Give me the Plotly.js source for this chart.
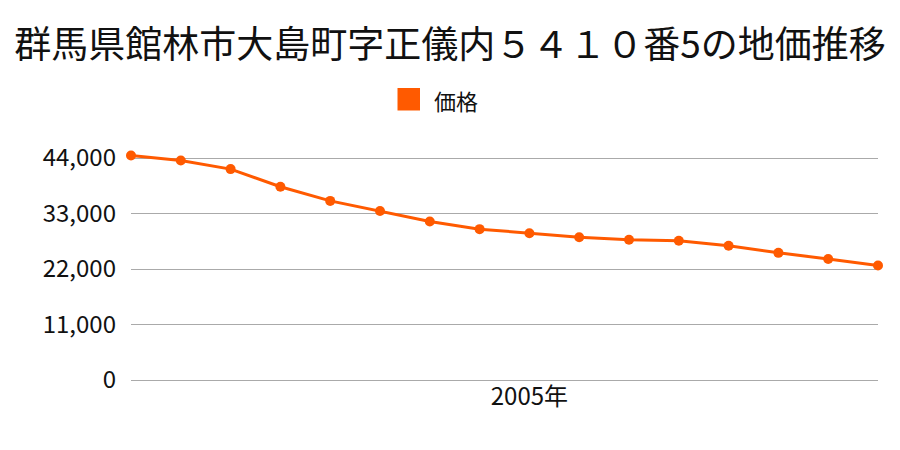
<!DOCTYPE html>
<html><head><meta charset="utf-8">
<script src="https://cdn.plot.ly/plotly-3.0.1.min.js"></script>
<style>body{margin:0;background:#fff}#c{width:900px;height:450px}</style>
</head><body><div id="c"></div>
<script>
const years = [1997,1998,1999,2000,2001,2002,2003,2004,2005,2006,2007,2008,2009,2010,2011,2012];
const prices = [44500,43500,41800,38300,35500,33500,31400,29900,29100,28300,27800,27600,26600,25200,24000,22700];
const yTicks = [0,11000,22000,33000,44000];
const yTickLabels = ['0','11,000','22,000','33,000','44,000'];
const xTicks = [2005];
const xTickLabels = ['2005年'];
const seriesName = '価格';
const titleText = '群馬県館林市大島町字正儀内５４１０番5の地価推移';
const font = '"Noto Sans CJK JP", "Noto Sans", sans-serif';
const seriesColor = '#ff5a00';

// plot area geometry (pixels) used only to place the hand-made legend
const L = 131, R = 22, T = 140, B = 70, W = 900, H = 450;
const pw = W - L - R, ph = H - T - B;
const px = v => (v - L) / pw;
const py = v => (H - B - v) / ph;

Plotly.newPlot('c', [{
  x: years, y: prices, name: seriesName, type: 'scatter', mode: 'lines+markers',
  line: {color: seriesColor, width: 3},
  marker: {color: seriesColor, size: 10},
  cliponaxis: false, showlegend: false
}], {
  width: W, height: H,
  margin: {l: L, r: R, t: T, b: B},
  paper_bgcolor: '#fff', plot_bgcolor: '#fff',
  font: {family: font, color: '#111'},
  title: {text: titleText, font: {size: 37, family: font, color: '#111'}, x: 0.5, xanchor: 'center', xref: 'container', yref: 'container', y: 0.9, yanchor: 'middle'},
  showlegend: false,
  shapes: [{type: 'rect', xref: 'paper', yref: 'paper', x0: px(397.5), x1: px(420), y0: py(110.5), y1: py(88), fillcolor: seriesColor, line: {width: 0}}],
  annotations: [{xref: 'paper', yref: 'paper', x: px(432), y: py(99.5), xanchor: 'left', yanchor: 'middle', text: seriesName, showarrow: false, font: {size: 22, family: font, color: '#111'}}],
  xaxis: {range: [1997, 2012], tickvals: xTicks, ticktext: xTickLabels, showgrid: false, zeroline: false, showline: false, ticks: '', tickfont: {size: 24}},
  yaxis: {range: [0, 47570], tickvals: yTicks, ticktext: yTickLabels, showgrid: true, gridcolor: '#aaaaaa', gridwidth: 1, zeroline: true, zerolinecolor: '#aaaaaa', zerolinewidth: 1, showline: false, ticks: '', ticklabelstandoff: 14, tickfont: {size: 24}, automargin: false}
}, {displayModeBar: false, staticPlot: true});
</script></body></html>
